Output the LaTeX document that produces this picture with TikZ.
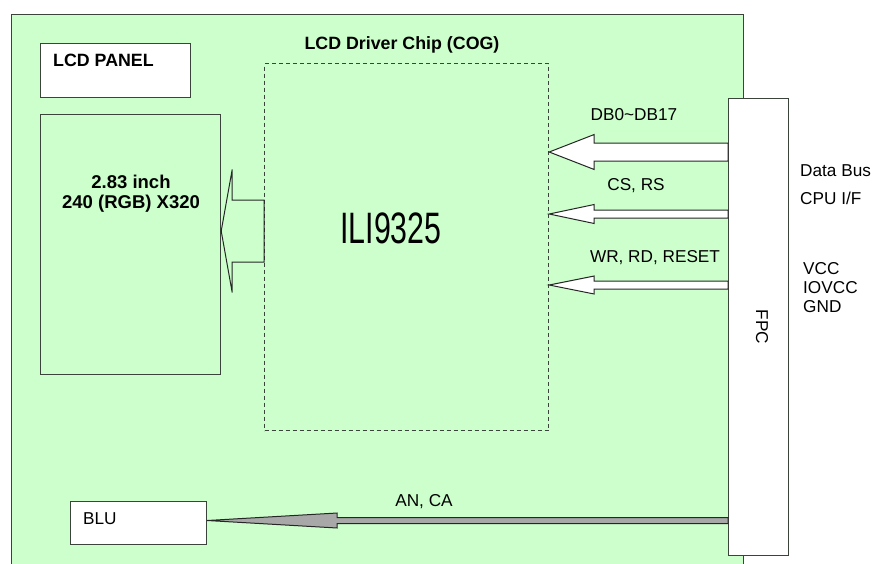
\documentclass[tikz,border=0pt]{standalone}
\usepackage{fontspec}
\setmainfont{Liberation Sans}
\usetikzlibrary{calc}

\definecolor{boardgreen}{HTML}{CCFFCC}
\definecolor{edgegray}{HTML}{3A443A}
\definecolor{blugray}{HTML}{A8A8A8}

\tikzset{
  box/.style={draw=edgegray, line width=1.2pt, rectangle, inner sep=0pt, anchor=north west},
  lbl/.style={font=\fontsize{17.2}{20}\selectfont, inner sep=0pt},
  hdr/.style={font=\bfseries\fontsize{17.8}{20}\selectfont, inner sep=0pt},
  arrowline/.style={draw=black!85, line width=1pt, line join=miter},
}

% block arrow: start, tip, shaft half width, head half width, head length, fill
\newcommand{\busarrow}[6]{%
  \draw[arrowline, fill=#6] let \p1=(#1), \p2=(#2) in
    (\x1,\y1+#3pt) -- (\x2+#5pt,\y1+#3pt) -- (\x2+#5pt,\y1+#4pt) -- (\x2,\y1)
    -- (\x2+#5pt,\y1-#4pt) -- (\x2+#5pt,\y1-#3pt) -- (\x1,\y1-#3pt) -- cycle;}

\begin{document}
\begin{tikzpicture}[x=1pt, y=-1pt]
  \useasboundingbox (0,0) rectangle (875,563);
  \fill[white] (0,0) rectangle (875,563);

  % module board
  \node[box, fill=boardgreen, minimum width=732pt, minimum height=570pt] (board) at (11,14) {};

  % LCD panel
  \node[box, fill=white, minimum width=150pt, minimum height=54pt] (panel) at (40,43) {};
  \node[hdr, anchor=west] (paneltxt) at ($(panel.north west)+(13,17)$) {LCD PANEL};
  \node[box, fill=boardgreen, minimum width=180pt, minimum height=260pt] (display) at (40,114) {};
  \node[hdr, align=center, font=\bfseries\fontsize{18.5}{20}\selectfont] (size) at (131,194) {2.83 inch\\240 (RGB) X320};

  % driver chip
  \node[box, dashed, dash pattern=on 4pt off 3pt, minimum width=284pt, minimum height=367pt] (chip) at (264,63) {};
  \node[hdr] (chiptitle) at (402,45) {LCD Driver Chip (COG)};
  \node[inner sep=0pt, font=\fontsize{44}{44}\selectfont, xscale=0.69] (ic) at (391,228) {ILI9325};

  % FPC
  \node[box, fill=white, minimum width=60pt, minimum height=457pt] (fpc) at (728,98) {};
  \node[lbl, rotate=-90] (fpctxt) at (762,327) {FPC};

  % backlight
  \node[box, fill=white, minimum width=136pt, minimum height=43pt] (blu) at (70,501) {};
  \node[lbl, anchor=west] (blutxt) at ($(blu.west)+(13,-4)$) {BLU};

  % buses
  \busarrow{chip.west |- 0,231}{display.east}{31}{61.5}{11}{none}
  \busarrow{fpc.west |- 0,152}{chip.east}{9}{17.5}{45}{white}
  \busarrow{fpc.west |- 0,214}{chip.east}{4}{9.5}{45}{white}
  \busarrow{fpc.west |- 0,285}{chip.east}{4}{9}{45}{white}
  \busarrow{fpc.west |- 0,520.5}{blu.east}{3}{7.5}{130}{blugray}

  \node[lbl] (dblbl) at (634,115) {DB0\textasciitilde DB17};
  \node[lbl] (cslbl) at (636,186) {CS, RS};
  \node[lbl] (wrlbl) at (655,258) {WR, RD, RESET};
  \node[lbl] (anlbl) at (424,502) {AN, CA};

  % pins
  \node[lbl, anchor=west] (databus) at (800,171) {Data Bus};
  \node[lbl, anchor=west] (cpuif) at (800,198) {CPU I/F};
  \node[lbl, anchor=west] (vcc) at (803,269) {VCC};
  \node[lbl, anchor=west] (iovcc) at (803,288) {IOVCC};
  \node[lbl, anchor=west] (gnd) at (803,307) {GND};
\end{tikzpicture}
\end{document}
